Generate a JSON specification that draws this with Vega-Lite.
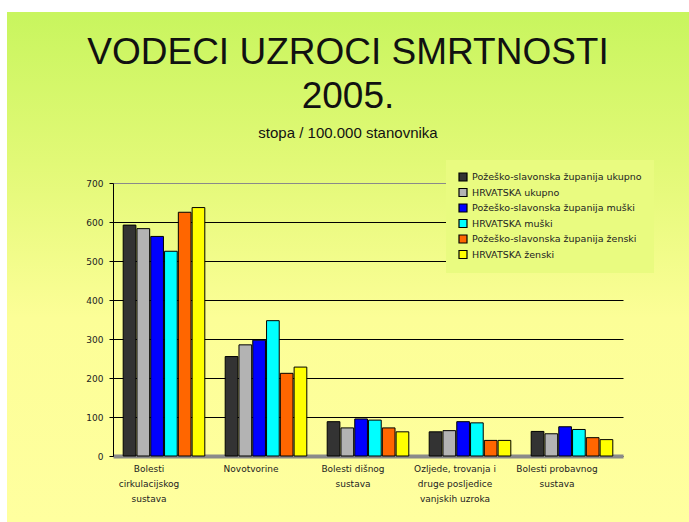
{
  "$schema": "https://vega.github.io/schema/vega-lite/v6.json",
  "autosize": "none",
  "width": 682,
  "height": 510,
  "padding": {"left": 7, "top": 12, "right": 0, "bottom": 0},
  "background": "white",
  "config": {
    "font": "Liberation Sans",
    "view": {
      "stroke": null,
      "fill": {"gradient": "linear", "x1": 0, "y1": 0, "x2": 0, "y2": 1,
        "stops": [
          {"offset": 0, "color": "#c8f55e"},
          {"offset": 0.3, "color": "#e2f977"},
          {"offset": 0.6, "color": "#fcfe97"},
          {"offset": 1, "color": "#ffff9f"}
        ]}
    }
  },
  "title": {
    "text": ["VODECI UZROCI SMRTNOSTI", "2005."],
    "subtitle": "stopa / 100.000 stanovnika",
    "anchor": "middle",
    "frame": "group",
    "fontSize": 37,
    "fontWeight": "normal",
    "lineHeight": 44,
    "color": "#111111",
    "subtitleFontSize": 15,
    "subtitleColor": "#111111",
    "subtitlePadding": 10,
    "baseline": "top",
    "offset": -130
  },
  "data": {
    "values": [
      {"uzrok": "Bolesti cirkulacijskog sustava", "serija": "Požeško-slavonska županija ukupno", "stopa": 592},
      {"uzrok": "Bolesti cirkulacijskog sustava", "serija": "HRVATSKA ukupno", "stopa": 583},
      {"uzrok": "Bolesti cirkulacijskog sustava", "serija": "Požeško-slavonska županija muški", "stopa": 563},
      {"uzrok": "Bolesti cirkulacijskog sustava", "serija": "HRVATSKA muški", "stopa": 525},
      {"uzrok": "Bolesti cirkulacijskog sustava", "serija": "Požeško-slavonska županija ženski", "stopa": 625},
      {"uzrok": "Bolesti cirkulacijskog sustava", "serija": "HRVATSKA ženski", "stopa": 637},
      {"uzrok": "Novotvorine", "serija": "Požeško-slavonska županija ukupno", "stopa": 255},
      {"uzrok": "Novotvorine", "serija": "HRVATSKA ukupno", "stopa": 285},
      {"uzrok": "Novotvorine", "serija": "Požeško-slavonska županija muški", "stopa": 297},
      {"uzrok": "Novotvorine", "serija": "HRVATSKA muški", "stopa": 347},
      {"uzrok": "Novotvorine", "serija": "Požeško-slavonska županija ženski", "stopa": 212},
      {"uzrok": "Novotvorine", "serija": "HRVATSKA ženski", "stopa": 228},
      {"uzrok": "Bolesti dišnog sustava", "serija": "Požeško-slavonska županija ukupno", "stopa": 88},
      {"uzrok": "Bolesti dišnog sustava", "serija": "HRVATSKA ukupno", "stopa": 72},
      {"uzrok": "Bolesti dišnog sustava", "serija": "Požeško-slavonska županija muški", "stopa": 95},
      {"uzrok": "Bolesti dišnog sustava", "serija": "HRVATSKA muški", "stopa": 92},
      {"uzrok": "Bolesti dišnog sustava", "serija": "Požeško-slavonska županija ženski", "stopa": 72},
      {"uzrok": "Bolesti dišnog sustava", "serija": "HRVATSKA ženski", "stopa": 62},
      {"uzrok": "Ozljede, trovanja i druge posljedice vanjskih uzroka", "serija": "Požeško-slavonska županija ukupno", "stopa": 62},
      {"uzrok": "Ozljede, trovanja i druge posljedice vanjskih uzroka", "serija": "HRVATSKA ukupno", "stopa": 65},
      {"uzrok": "Ozljede, trovanja i druge posljedice vanjskih uzroka", "serija": "Požeško-slavonska županija muški", "stopa": 88},
      {"uzrok": "Ozljede, trovanja i druge posljedice vanjskih uzroka", "serija": "HRVATSKA muški", "stopa": 85},
      {"uzrok": "Ozljede, trovanja i druge posljedice vanjskih uzroka", "serija": "Požeško-slavonska županija ženski", "stopa": 40},
      {"uzrok": "Ozljede, trovanja i druge posljedice vanjskih uzroka", "serija": "HRVATSKA ženski", "stopa": 40},
      {"uzrok": "Bolesti probavnog sustava", "serija": "Požeško-slavonska županija ukupno", "stopa": 63},
      {"uzrok": "Bolesti probavnog sustava", "serija": "HRVATSKA ukupno", "stopa": 57},
      {"uzrok": "Bolesti probavnog sustava", "serija": "Požeško-slavonska županija muški", "stopa": 75},
      {"uzrok": "Bolesti probavnog sustava", "serija": "HRVATSKA muški", "stopa": 68},
      {"uzrok": "Bolesti probavnog sustava", "serija": "Požeško-slavonska županija ženski", "stopa": 47},
      {"uzrok": "Bolesti probavnog sustava", "serija": "HRVATSKA ženski", "stopa": 42}
    ]
  },
  "mark": {"type": "bar", "stroke": "black", "strokeWidth": 1},
  "encoding": {
    "x": {
      "field": "uzrok", "type": "nominal", "sort": null, "title": null,
      "scale": {"range": [106, 616], "paddingInner": 0.2, "paddingOuter": 0.1},
      "axis": {
        "orient": "bottom", "offset": -66, "labelAngle": 0, "ticks": false,
        "domainColor": "#8a8a8a", "domainWidth": 4,
        "labelFont": "DejaVu Sans", "labelFontSize": 9, "labelColor": "#222222", "labelPadding": 8, "labelLineHeight": 15,
        "labelOffset": -15,
        "labelExpr": "datum.value == 'Bolesti cirkulacijskog sustava' ? ['Bolesti', 'cirkulacijskog', 'sustava'] : datum.value == 'Bolesti dišnog sustava' ? ['Bolesti dišnog', 'sustava'] : datum.value == 'Ozljede, trovanja i druge posljedice vanjskih uzroka' ? ['Ozljede, trovanja i', 'druge posljedice', 'vanjskih uzroka'] : datum.value == 'Bolesti probavnog sustava' ? ['Bolesti probavnog', 'sustava'] : datum.value"
      }
    },
    "xOffset": {
      "field": "serija", "type": "nominal", "sort": null,
      "scale": {"paddingInner": 0.08, "paddingOuter": 0}
    },
    "y": {
      "field": "stopa", "type": "quantitative", "title": null,
      "scale": {"domain": [0, 700], "range": [444, 171], "nice": false},
      "axis": {
        "orient": "left", "offset": -106, "values": [0, 100, 200, 300, 400, 500, 600, 700],
        "labelFont": "DejaVu Sans", "labelFontSize": 9, "labelColor": "#222222", "labelPadding": 6,
        "tickSize": 4, "tickColor": "black",
        "domainColor": "black", "grid": true,
        "gridColor": {"condition": {"test": "datum.value == 700", "value": "#8a8a8a"}, "value": "black"},
        "gridWidth": 1, "gridOpacity": 1
      }
    },
    "color": {
      "field": "serija", "type": "nominal", "sort": null, "title": null,
      "scale": {
        "domain": ["Požeško-slavonska županija ukupno", "HRVATSKA ukupno", "Požeško-slavonska županija muški", "HRVATSKA muški", "Požeško-slavonska županija ženski", "HRVATSKA ženski"],
        "range": ["#333333", "#b3b3b3", "#0000ff", "#00ffff", "#ff6600", "#ffff00"]
      },
      "legend": {
        "orient": "none", "legendX": 439, "legendY": 148,
        "symbolType": "square", "symbolSize": 64, "symbolStrokeColor": "black", "symbolStrokeWidth": 1.2,
        "labelFont": "DejaVu Sans", "labelFontSize": 9.5, "labelColor": "#222222", "labelLimit": 400,
        "rowPadding": 1.5, "labelOffset": 4,
        "padding": 12,
        "fillColor": "#e9fb80"
      }
    }
  }
}
